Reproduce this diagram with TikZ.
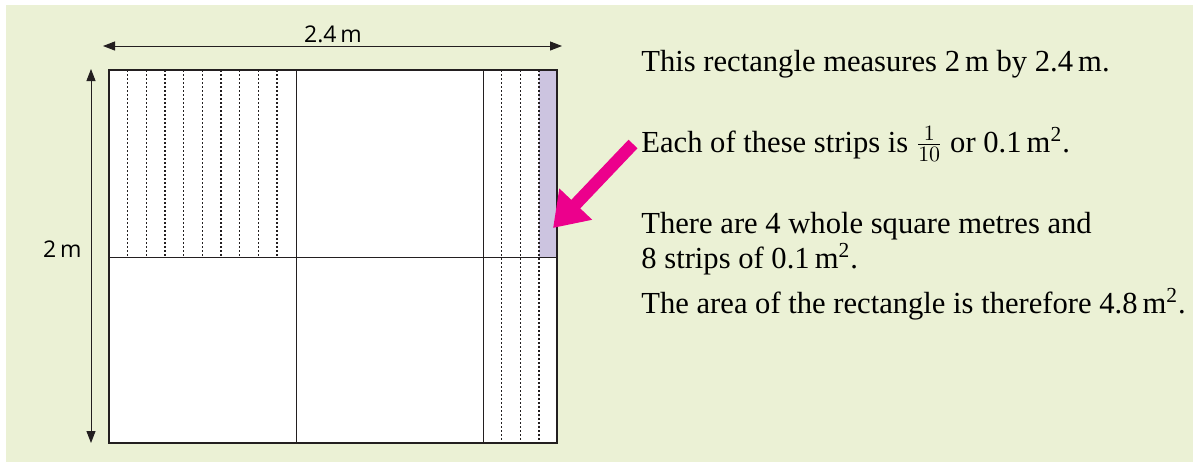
\documentclass[tikz,border=0pt]{standalone}
\usepackage{fontspec}
\setmainfont{Liberation Serif}
\setsansfont{Open Sans}
\usetikzlibrary{arrows.meta,positioning}
\definecolor{bgreen}{RGB}{235,241,213}
\definecolor{stripviolet}{RGB}{204,196,224}
\definecolor{arrowpink}{RGB}{236,0,140}
\definecolor{inkgray}{RGB}{35,31,32}
\tikzset{
  dimarrow/.style={inkgray, line width=0.5pt,
    {Triangle[length=6pt,width=4.5pt]}-{Triangle[length=6pt,width=4.5pt]}},
  gridline/.style={inkgray, line width=0.5pt},
  stripline/.style={inkgray, line width=0.6pt, dash pattern=on 1pt off 1pt},
  pointer/.style={arrowpink, line width=6.2pt, -{Triangle[length=16.5pt,width=21.5pt]}},
  infotext/.style={anchor=base west, inner sep=0pt, font=\fontsize{15.3}{17.5}\selectfont},
  dimlabel/.style={inner sep=0pt, font=\sffamily\fontsize{11.5}{13}\selectfont}
}

\begin{document}
\begin{tikzpicture}[x=0.5pt,y=-0.5pt]
  \useasboundingbox (0,0) rectangle (1193,462);
  \fill[bgreen] (6,5) rectangle (1193,462);
  % The 2.4 m by 2 m rectangle
  \coordinate (nw) at (109,70);
  \coordinate (se) at (557,443);
  \fill[white] (nw) rectangle (se);
  \fill[stripviolet] (539,70) rectangle (557,257);
  % Strips of 0.1 m^2
  \foreach \k in {1,...,9}
    \draw[stripline] (109+18.67*\k,70) -- (109+18.67*\k,257);
  \foreach \k in {1,2,3}
    \draw[stripline] (483+18.67*\k,70) -- (483+18.67*\k,443);
  % Whole square metres
  \draw[gridline] (296,70) -- (296,443);
  \draw[gridline] (483,70) -- (483,443);
  \draw[gridline] (109,257) -- (557,257);
  \draw[inkgray, line width=1pt] (nw) rectangle (se);
  % Dimensions
  \coordinate (width start) at (103,46);
  \coordinate (width end) at (562,46);
  \draw[dimarrow] (width start) -- (width end);
  \node[dimlabel, anchor=base] (width label) at (333,42.5) {2.4\,m};
  \coordinate (height start) at (91,69);
  \coordinate (height end) at (91,443);
  \draw[dimarrow] (height start) -- (height end);
  \node[dimlabel, anchor=base east] (height label) at (82,257.5) {2\,m};
  % Explanations
  \node[infotext] (measures) at (641,71) {This rectangle measures 2\,m by 2.4\,m.};
  \node[infotext] (each strip) at (641,152)
    {Each of these strips is $\frac{1}{10}$ or 0.1\,m\textsuperscript{2}.};
  \node[infotext] (whole metres) at (641,233) {There are 4 whole square metres and};
  \node[infotext] (strip count) at (641,268) {8 strips of 0.1\,m\textsuperscript{2}.};
  \node[infotext] (area) at (641,313)
    {The area of the rectangle is therefore 4.8\,m\textsuperscript{2}.};
  % Pointer to one strip
  \coordinate (pointer tail) at (633,144);
  \coordinate (violet strip) at (553,228);
  \draw[pointer] (pointer tail) -- (violet strip);
\end{tikzpicture}
\end{document}
